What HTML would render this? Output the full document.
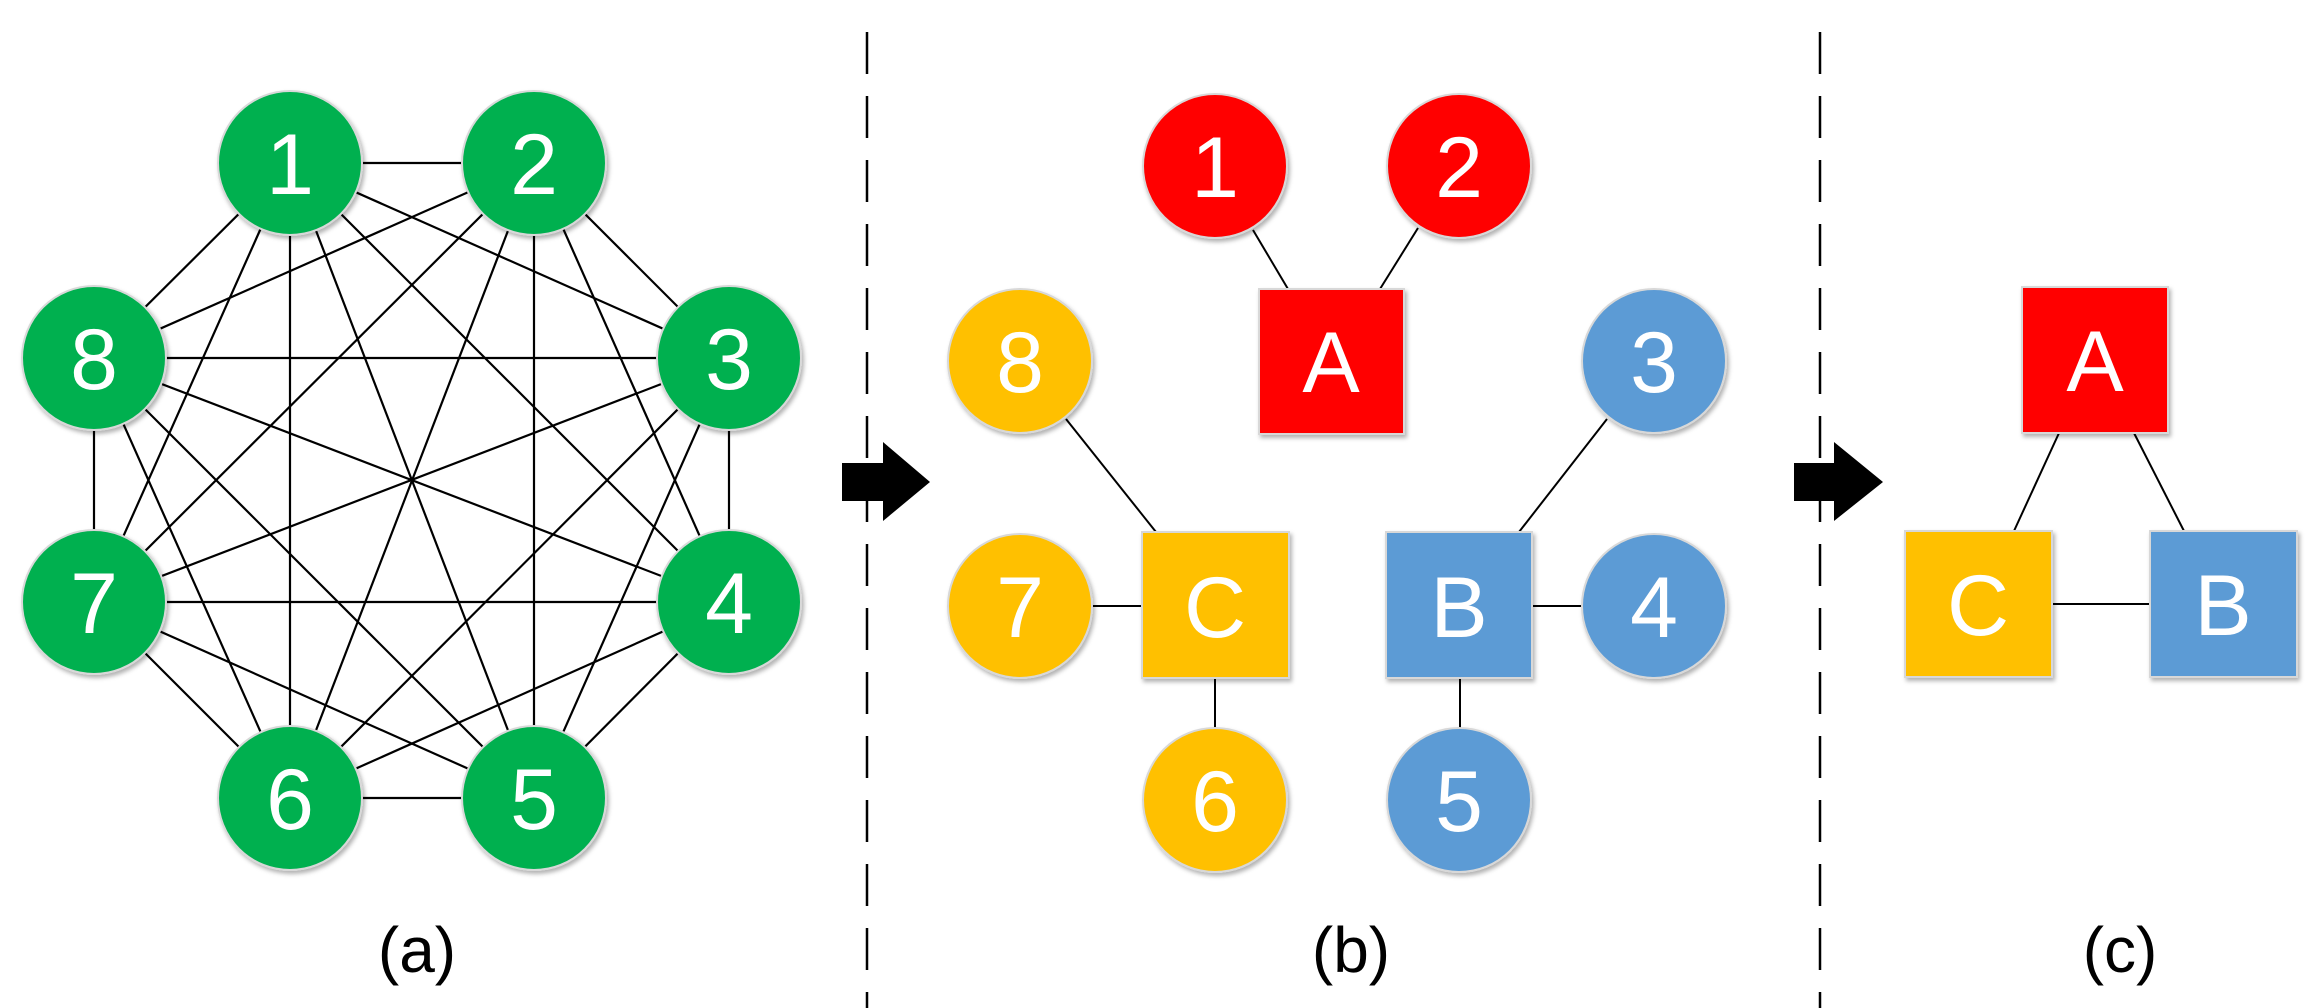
<!DOCTYPE html>
<html><head><meta charset="utf-8"><style>
html,body{margin:0;padding:0;background:#fff;}
svg{display:block;}
text{font-family:"Liberation Sans",sans-serif;}
</style></head><body>
<svg width="2319" height="1008" viewBox="0 0 2319 1008" xmlns="http://www.w3.org/2000/svg">
<defs>
<filter id="sh" x="-20%" y="-20%" width="140%" height="140%">
<feDropShadow dx="2" dy="3" stdDeviation="2" flood-color="#000" flood-opacity="0.3"/>
</filter>
</defs>
<!-- dashed separators -->
<line x1="867" y1="32" x2="867" y2="1008" stroke="#000" stroke-width="2.5" stroke-dasharray="42 22"/>
<line x1="1820" y1="32" x2="1820" y2="1008" stroke="#000" stroke-width="2.5" stroke-dasharray="42 22"/>
<!-- arrows -->
<polygon points="842,463 883,463 883,442 930,482 883,521 883,501 842,501" fill="#000"/>
<polygon points="1794,463 1834,463 1834,442 1883,482 1834,521 1834,501 1794,501" fill="#000"/>

<!-- panel a edges -->
<g stroke="#000" stroke-width="2.2" id="edges"></g>
<g stroke="#000" stroke-width="2.2">
<line x1="290" y1="163" x2="534" y2="163"/><line x1="290" y1="163" x2="729" y2="358"/><line x1="290" y1="163" x2="729" y2="602"/><line x1="290" y1="163" x2="534" y2="798"/><line x1="290" y1="163" x2="290" y2="798"/><line x1="290" y1="163" x2="94" y2="602"/><line x1="290" y1="163" x2="94" y2="358"/>
<line x1="534" y1="163" x2="729" y2="358"/><line x1="534" y1="163" x2="729" y2="602"/><line x1="534" y1="163" x2="534" y2="798"/><line x1="534" y1="163" x2="290" y2="798"/><line x1="534" y1="163" x2="94" y2="602"/><line x1="534" y1="163" x2="94" y2="358"/>
<line x1="729" y1="358" x2="729" y2="602"/><line x1="729" y1="358" x2="534" y2="798"/><line x1="729" y1="358" x2="290" y2="798"/><line x1="729" y1="358" x2="94" y2="602"/><line x1="729" y1="358" x2="94" y2="358"/>
<line x1="729" y1="602" x2="534" y2="798"/><line x1="729" y1="602" x2="290" y2="798"/><line x1="729" y1="602" x2="94" y2="602"/><line x1="729" y1="602" x2="94" y2="358"/>
<line x1="534" y1="798" x2="290" y2="798"/><line x1="534" y1="798" x2="94" y2="602"/><line x1="534" y1="798" x2="94" y2="358"/>
<line x1="290" y1="798" x2="94" y2="602"/><line x1="290" y1="798" x2="94" y2="358"/>
<line x1="94" y1="602" x2="94" y2="358"/>
</g>
<g fill="#00B050" stroke="#d8d8d8" stroke-width="2" filter="url(#sh)">
<circle cx="290" cy="163" r="72"/><circle cx="534" cy="163" r="72"/><circle cx="729" cy="358" r="72"/><circle cx="729" cy="602" r="72"/>
<circle cx="534" cy="798" r="72"/><circle cx="290" cy="798" r="72"/><circle cx="94" cy="602" r="72"/><circle cx="94" cy="358" r="72"/>
</g>
<g fill="#fff" font-size="86" text-anchor="middle">
<text x="290" y="194">1</text><text x="534" y="194">2</text><text x="729" y="389">3</text><text x="729" y="633">4</text>
<text x="534" y="829">5</text><text x="290" y="829">6</text><text x="94" y="633">7</text><text x="94" y="389">8</text>
</g>

<!-- panel b edges -->
<g stroke="#000" stroke-width="2">
<line x1="1253" y1="230" x2="1288" y2="289"/><line x1="1418" y1="228" x2="1380" y2="289"/>
<line x1="1066" y1="419" x2="1156" y2="532"/><line x1="1607" y1="419" x2="1519" y2="532"/>
<line x1="1092" y1="606" x2="1142" y2="606"/><line x1="1532" y1="606" x2="1582" y2="606"/>
<line x1="1215" y1="678" x2="1215" y2="728"/><line x1="1460" y1="678" x2="1460" y2="728"/>
</g>
<g stroke="#d8d8d8" stroke-width="2" filter="url(#sh)">
<circle cx="1215" cy="166" r="72" fill="#FF0000"/><circle cx="1459" cy="166" r="72" fill="#FF0000"/>
<rect x="1259" y="289" width="145" height="145" fill="#FF0000"/>
<circle cx="1020" cy="361" r="72" fill="#FFC000"/><circle cx="1020" cy="606" r="72" fill="#FFC000"/><circle cx="1215" cy="800" r="72" fill="#FFC000"/>
<rect x="1142" y="532" width="147" height="146" fill="#FFC000"/>
<circle cx="1654" cy="361" r="72" fill="#5B9BD5"/><circle cx="1654" cy="606" r="72" fill="#5B9BD5"/><circle cx="1459" cy="800" r="72" fill="#5B9BD5"/>
<rect x="1386" y="532" width="146" height="146" fill="#5B9BD5"/>
</g>
<g fill="#fff" font-size="86" text-anchor="middle">
<text x="1215" y="197">1</text><text x="1459" y="197">2</text><text x="1331" y="392">A</text>
<text x="1020" y="392">8</text><text x="1020" y="637">7</text><text x="1215" y="831">6</text><text x="1215" y="637">C</text>
<text x="1654" y="392">3</text><text x="1654" y="637">4</text><text x="1459" y="831">5</text><text x="1459" y="637">B</text>
</g>

<!-- panel c -->
<g stroke="#000" stroke-width="2">
<line x1="2059" y1="433" x2="2014" y2="531"/><line x1="2134" y1="433" x2="2184" y2="531"/>
<line x1="2052" y1="604" x2="2150" y2="604"/>
</g>
<g stroke="#d8d8d8" stroke-width="2" filter="url(#sh)">
<rect x="2022" y="287" width="146" height="146" fill="#FF0000"/>
<rect x="1905" y="531" width="147" height="146" fill="#FFC000"/>
<rect x="2150" y="531" width="147" height="146" fill="#5B9BD5"/>
</g>
<g fill="#fff" font-size="86" text-anchor="middle">
<text x="2095" y="391">A</text><text x="1978" y="635">C</text><text x="2223" y="635">B</text>
</g>

<g fill="#000" font-size="64" text-anchor="middle">
<text x="417" y="972">(a)</text><text x="1351" y="972">(b)</text><text x="2120" y="972">(c)</text>
</g>
</svg>
</body></html>
